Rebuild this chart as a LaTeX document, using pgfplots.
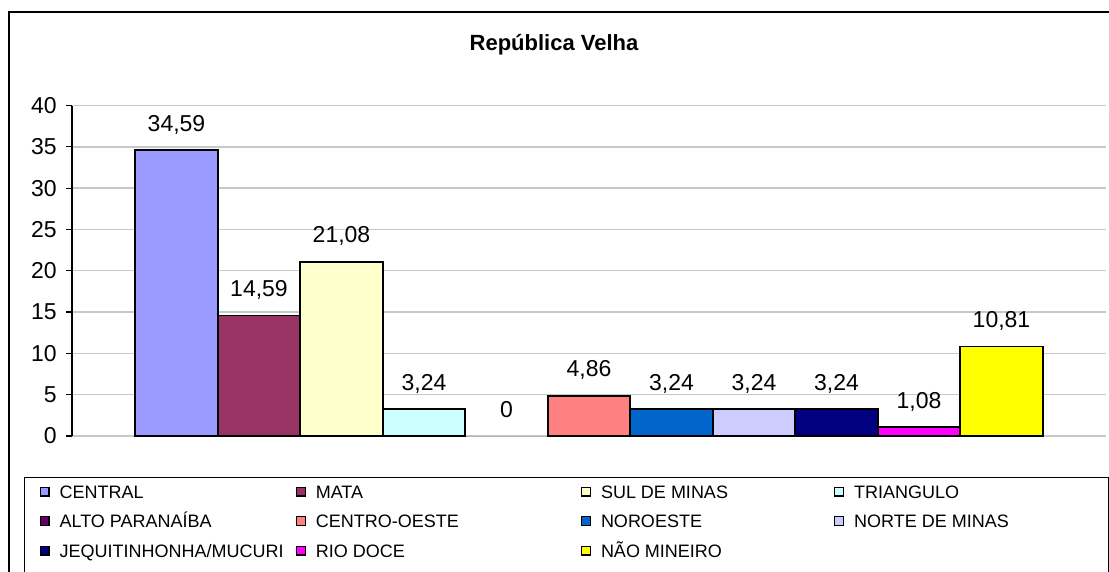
\documentclass[border=0pt]{standalone}
\usepackage{fontspec}
\setmainfont{Liberation Sans}
\usepackage{pgfplots}
\pgfplotsset{compat=1.18}
\definecolor{cCentral}{HTML}{9999FF}
\definecolor{cMata}{HTML}{993366}
\definecolor{cSul}{HTML}{FFFFCC}
\definecolor{cTri}{HTML}{CCFFFF}
\definecolor{cAlto}{HTML}{660066}
\definecolor{cCO}{HTML}{FF8080}
\definecolor{cNoro}{HTML}{0066CC}
\definecolor{cNorte}{HTML}{CCCCFF}
\definecolor{cJeq}{HTML}{000080}
\definecolor{cRio}{HTML}{FF00FF}
\definecolor{cNao}{HTML}{FFFF00}
\definecolor{gridc}{HTML}{C8C8C8}
\newcommand\lw[2]{\makebox[#1][l]{#2}}
\begin{document}
\begin{tikzpicture}
\useasboundingbox (0pt,0pt) rectangle (554.5pt,-286pt);
\fill[white] (0pt,0pt) rectangle (554.5pt,-286pt);
\draw[line width=0.9pt] (4.5pt,-295pt) -- (4.5pt,-6pt) -- (565pt,-6pt);
\node[font=\bfseries\fontsize{11}{13}\selectfont] at (277pt,-22.5pt) {República Velha};
\begin{axis}[
  at={(36pt,-218pt)}, anchor=south west,
  scale only axis, width=517pt, height=165.25pt,
  xmin=-1, xmax=1, ymin=0, ymax=40,
  ybar=0pt, bar width=41.25pt,
  xtick=\empty,
  ytick={0,5,...,40},
  axis x line*=bottom, axis y line*=left,
  axis line style={-},
  x axis line style={draw=gridc, line width=0.7pt},
  y axis line style={draw=black, line width=0.6pt},
  ymajorgrids, grid style={draw=gridc, line width=0.7pt},
  tick align=outside, major tick length=3pt,
  ytick style={draw=black, line width=0.6pt},
  yticklabel style={font=\fontsize{11.5}{13}\selectfont, inner sep=0pt, xshift=-4.5pt},
  /pgf/number format/use comma,
  /pgf/number format/fixed,
  /pgf/number format/precision=2,
  /pgf/number format/assume math mode=true,
  nodes near coords,
  every node near coord/.append style={font=\fontsize{11.5}{13}\selectfont, anchor=base, inner sep=0pt, yshift=9.5pt, black},
  legend columns=4,
  legend cell align=left,
  legend image code/.code={\draw[#1, draw=black, line width=0.6pt] (0pt,-2.2pt) rectangle (4.4pt,2.2pt);},
  legend style={
    at={(axis description cs:-0.04642,-0.12405)}, anchor=north west,
    draw=black, line width=0.6pt,
    font=\fontsize{9}{11}\selectfont,
    inner xsep=7.5pt, inner ysep=3.75pt,
    nodes={inner sep=0pt, text height=6.5pt, text depth=0pt},
    row sep=8.25pt,
    /tikz/every odd column/.append style={column sep=5pt},
    /tikz/every even column/.append style={column sep=0pt},
  },
]
\addplot[fill=cCentral, draw=black, line width=0.8pt] coordinates {(0,34.59)};
\addlegendentry{\lw{118.1pt}{CENTRAL}}
\addplot[fill=cMata, draw=black, line width=0.8pt] coordinates {(0,14.59)};
\addlegendentry{\lw{132.6pt}{MATA}}
\addplot[fill=cSul, draw=black, line width=0.8pt] coordinates {(0,21.08)};
\addlegendentry{\lw{116.6pt}{SUL DE MINAS}}
\addplot[fill=cTri, draw=black, line width=0.8pt] coordinates {(0,3.24)};
\addlegendentry{\lw{119.6pt}{TRIANGULO}}
\addplot[fill=cAlto, draw=none, line width=0.8pt, legend image post style={draw=black}] coordinates {(0,0)};
\addlegendentry{ALTO PARANAÍBA}
\addplot[fill=cCO, draw=black, line width=0.8pt] coordinates {(0,4.86)};
\addlegendentry{CENTRO-OESTE}
\addplot[fill=cNoro, draw=black, line width=0.8pt] coordinates {(0,3.24)};
\addlegendentry{NOROESTE}
\addplot[fill=cNorte, draw=black, line width=0.8pt] coordinates {(0,3.24)};
\addlegendentry{NORTE DE MINAS}
\addplot[fill=cJeq, draw=black, line width=0.8pt] coordinates {(0,3.24)};
\addlegendentry{JEQUITINHONHA/MUCURI}
\addplot[fill=cRio, draw=black, line width=0.8pt] coordinates {(0,1.08)};
\addlegendentry{RIO DOCE}
\addplot[fill=cNao, draw=black, line width=0.8pt] coordinates {(0,10.81)};
\addlegendentry{NÃO MINEIRO}
\addlegendimage{empty legend}\addlegendentry{}
\addlegendimage{empty legend}\addlegendentry{}
\addlegendimage{empty legend}\addlegendentry{}
\addlegendimage{empty legend}\addlegendentry{}
\addlegendimage{empty legend}\addlegendentry{}
\end{axis}
\end{tikzpicture}
\end{document}
